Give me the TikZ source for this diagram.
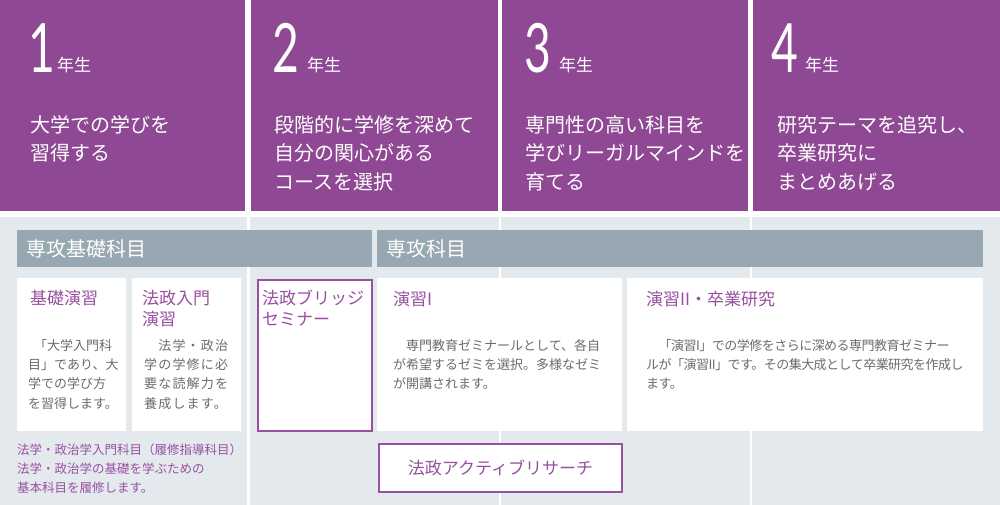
\documentclass[tikz,border=0pt]{standalone}
\usepackage{fontspec}
\usepackage{graphicx}
\setmainfont{Noto Sans CJK JP}
\newfontfamily\digitfont{Lato}
\definecolor{yearpurple}{RGB}{143,72,148}
\definecolor{titlepurple}{RGB}{152,80,160}
\definecolor{hdrgray}{RGB}{151,168,178}
\definecolor{lightbg}{RGB}{228,233,238}
\definecolor{bodygray}{RGB}{108,108,108}
\begin{document}
\begin{tikzpicture}[x=1pt,y=-1pt,
  yearbox/.style={fill=yearpurple, draw=none, anchor=north west, inner sep=0pt, minimum height=211pt},
  yearnum/.style={anchor=base west, inner sep=0pt, text=white, font=\digitfont\fontsize{68}{68}\selectfont},
  nen/.style={anchor=base west, inner sep=0pt, text=white, font=\fontsize{17}{17}\selectfont},
  yeardesc/.style={anchor=north west, inner sep=0pt, text=white, align=left, font=\fontsize{20}{28.5}\selectfont},
  hdrbar/.style={fill=hdrgray, anchor=north west, minimum height=37pt, inner xsep=9pt, inner ysep=0pt, text=white, align=left, font=\fontsize{20}{20}\selectfont},
  whitebox/.style={fill=white, anchor=north west, inner sep=0pt, minimum height=153pt},
  purplebox/.style={fill=white, draw=titlepurple, line width=2pt, anchor=north west, inner sep=0pt},
  subjtitle/.style={anchor=north west, inner sep=0pt, text=titlepurple, align=left, font=\fontsize{17}{21}\selectfont},
  bodytext/.style={anchor=north west, inner sep=0pt, text=bodygray, align=left, font=\fontsize{13}{19.3}\selectfont},
  notetext/.style={anchor=north west, inner sep=0pt, text=titlepurple, align=left, font=\fontsize{12.5}{18.7}\selectfont},
  divider/.style={fill=white, draw=none}
]
\useasboundingbox (0,0) rectangle (1000,505);
\fill[white] (0,0) rectangle (1000,505);
\fill[lightbg] (0,217) rectangle (1000,505);
\fill[divider] (247,217) rectangle (249.5,505);
\fill[divider] (498.5,217) rectangle (501,505);
\fill[divider] (749.5,217) rectangle (752,505);

% year boxes
\node[yearbox, minimum width=245pt] (year1) at (0,0) {};
\node[yearbox, minimum width=247pt] (year2) at (251,0) {};
\node[yearbox, minimum width=246pt] (year3) at (502,0) {};
\node[yearbox, minimum width=247pt] (year4) at (753,0) {};

\node[yearnum] (num1) at (28,73) {\scalebox{0.68}[1]{1}};
\node[yearnum] (num2) at (272,73) {\scalebox{0.68}[1]{2}};
\node[yearnum] (num3) at (524,73) {\scalebox{0.68}[1]{3}};
\node[yearnum] (num4) at (771,73) {\scalebox{0.68}[1]{4}};

\node[nen] (nen1) at (57,72) {年生};
\node[nen] (nen2) at (307,72) {年生};
\node[nen] (nen3) at (559,72) {年生};
\node[nen] (nen4) at (805,72) {年生};

\node[yeardesc] (desc1) at (30,115) {大学での学びを\\習得する};
\node[yeardesc] (desc2) at (274,115) {段階的に学修を深めて\\自分の関心がある\\コースを選択};
\node[yeardesc] (desc3) at (525,115) {専門性の高い科目を\\学びリーガルマインドを\\育てる};
\node[yeardesc] (desc4) at (777,115) {研究テーマを追究し、\\卒業研究に\\まとめあげる};

% header bars
\node[hdrbar, text width=337pt] (hdr1) at (17,230) {専攻基礎科目};
\node[hdrbar, text width=588pt] (hdr2) at (377,230) {専攻科目};

% subject boxes
\node[whitebox, minimum width=109pt] (kiso) at (17,278) {};
\node[whitebox, minimum width=109pt] (nyumon) at (132,278) {};
\node[purplebox, minimum width=114pt, minimum height=151pt] (bridge) at (257,279) {};
\node[whitebox, minimum width=245pt] (enshu1) at (377,278) {};
\node[whitebox, minimum width=356pt] (enshu2) at (627,278) {};
\node[purplebox, minimum width=243pt, minimum height=48pt] (active) at (378,443) {};
\node[text=titlepurple, font=\fontsize{17}{17}\selectfont, inner sep=0pt] (activetext) at (active.center) {法政アクティブリサーチ};

% titles
\node[subjtitle] (kisotitle) at (30,290) {基礎演習};
\node[subjtitle] (nyumontitle) at (142,290) {法政入門\\演習};
\node[subjtitle] (bridgetitle) at (262,290) {法政ブリッジ\\セミナー};
\node[subjtitle] (enshu1title) at (393,291) {演習I};
\node[subjtitle] (enshu2title) at (646,291) {演習II・卒業研究};

% bodies
\node[bodytext] (kisobody) at (28,339) {\hspace*{6pt}「大学入門科\\目」であり、大\\学での学び方\\を習得します。};
\node[bodytext, font=\fontsize{13}{19.3}\selectfont\addfontfeatures{LetterSpace=9}] (nyumonbody) at (144,339) {　法学・政治\\学の学修に必\\要な読解力を\\養成します。};
\node[bodytext] (enshu1body) at (393,339) {　専門教育ゼミナールとして、各自\\が希望するゼミを選択。多様なゼミ\\が開講されます。};
\node[bodytext, font=\fontsize{13}{19.3}\selectfont\addfontfeatures{LetterSpace=-4}] (enshu2body) at (646,339) {　「演習I」での学修をさらに深める専門教育ゼミナー\\ルが「演習II」です。その集大成として卒業研究を作成し\\ます。};

% note
\node[notetext] (note) at (17,444) {法学・政治学入門科目（履修指導科目）\\法学・政治学の基礎を学ぶための\\基本科目を履修します。};
\end{tikzpicture}
\end{document}
